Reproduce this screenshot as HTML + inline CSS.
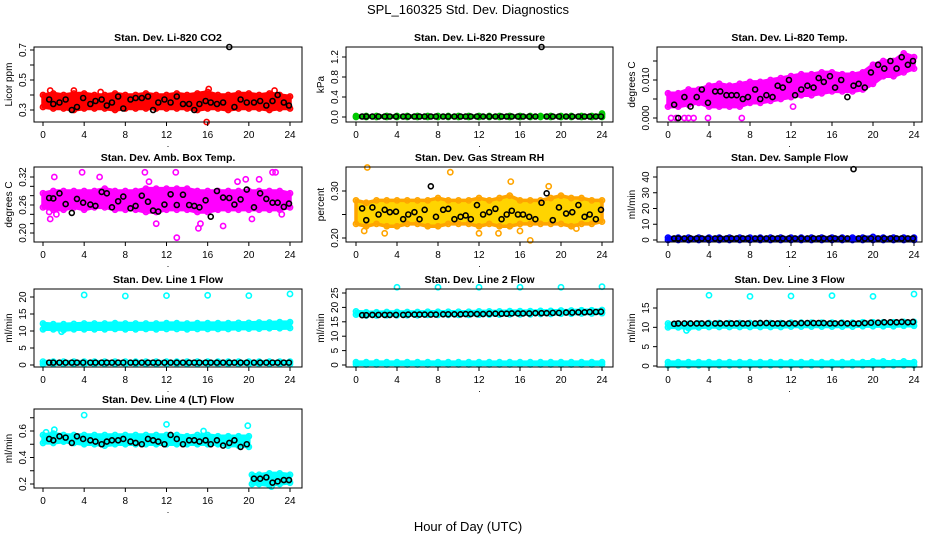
<!DOCTYPE html>
<html><head><meta charset="utf-8"><style>
body{margin:0;background:#fff;}
svg{display:block;font-family:"Liberation Sans",Arial,sans-serif;}
</style></head><body>
<svg id="c" width="936" height="540" viewBox="0 0 936 540">
<text x="468" y="14" text-anchor="middle" font-size="13">SPL_160325  Std. Dev. Diagnostics</text>
<text x="468" y="531" text-anchor="middle" font-size="13">Hour of Day (UTC)</text>
</svg>
<script>
// ---- data ----
const HOURS=[0,1,2,3,4,5,6,7,8,9,10,11,12,13,14,15,16,17,18,19,20,21,22,23,24];
const HOURS4=[0,1,2,3,4,5,6,7,8,9,10,11,12,13,14,15,16,17,18,19,20,20.3,21,22,23,24];
const BLACK_X=[0.6,1,1.6,2.2,2.8,3.3,3.9,4.6,5.1,5.7,6.2,6.7,7.3,7.8,8.5,9,9.6,10.2,10.7,11.2,11.8,12.4,13,13.6,14.2,14.7,15.2,15.8,16.3,16.9,17.5,18.1,18.6,19.2,19.8,20.5,21.1,21.7,22.3,22.8,23.4,23.9];
const X_TICKS=[0,4,8,12,16,20,24];

const co2Lo=[0.32,0.31,0.31,0.30,0.31,0.31,0.31,0.30,0.31,0.31,0.31,0.31,0.31,0.31,0.31,0.30,0.31,0.31,0.30,0.31,0.31,0.31,0.30,0.31,0.31];
const co2Hi=[0.40,0.41,0.40,0.41,0.41,0.40,0.40,0.41,0.40,0.40,0.41,0.40,0.40,0.41,0.40,0.41,0.42,0.40,0.40,0.41,0.41,0.40,0.41,0.40,0.39];
const co2OutX=[0.7,3,5.6,15.9,16.1,22.5];
const co2OutY=[0.43,0.43,0.42,0.22,0.44,0.43];
const co2Black=[0.37,0.34,0.35,0.37,0.30,0.32,0.38,0.34,0.36,0.37,0.33,0.35,0.39,0.31,0.37,0.38,0.38,0.39,0.30,0.35,0.37,0.35,0.39,0.34,0.34,0.30,0.34,0.36,0.35,0.34,0.35,0.72,0.32,0.37,0.35,0.35,0.36,0.33,0.36,0.40,0.35,0.33];

const presLo=[0,0,0,0,0,0,0,0,0,0,0,0,0,0,0,0,0,0,0,0,0,0,0,0,0];
const presHi=[0.02,0.02,0.02,0.02,0.02,0.02,0.02,0.02,0.02,0.02,0.02,0.02,0.02,0.02,0.02,0.02,0.02,0.02,0.02,0.02,0.02,0.02,0.02,0.02,0.04];
const presOutX=[24];
const presOutY=[0.07];
const presBlack=[0.01,0.01,0.01,0.01,0.01,0.01,0.01,0.01,0.01,0.01,0.01,0.01,0.01,0.01,0.01,0.01,0.01,0.01,0.01,0.01,0.01,0.01,0.01,0.01,0.01,0.01,0.01,0.01,0.01,0.01,0.01,1.4,0.01,0.01,0.01,0.01,0.01,0.01,0.01,0.01,0.01,0.01];

const tempLo=[0.003,0.003,0.0035,0.004,0.003,0.003,0.003,0.003,0.004,0.004,0.0045,0.005,0.0055,0.006,0.006,0.0065,0.007,0.007,0.007,0.0075,0.009,0.011,0.011,0.012,0.013];
const tempHi=[0.0065,0.0065,0.0075,0.0075,0.0085,0.009,0.0085,0.009,0.0095,0.0095,0.010,0.0105,0.011,0.0115,0.0115,0.012,0.012,0.0115,0.0115,0.012,0.014,0.015,0.015,0.017,0.016];
const tempOutX=[0.3,0.8,1.6,2,2.5,3.9,7.2,12.2];
const tempOutY=[0,0,0,0,0,0,0,0.003];
const tempBlack=[0.0035,0.000,0.0055,0.003,0.0055,0.0075,0.004,0.007,0.007,0.006,0.006,0.006,0.005,0.0055,0.0075,0.005,0.006,0.0055,0.0085,0.008,0.010,0.006,0.0075,0.0085,0.008,0.0105,0.0095,0.011,0.008,0.010,0.0055,0.0085,0.009,0.008,0.012,0.014,0.013,0.015,0.013,0.016,0.014,0.015];

const ambLo=[0.255,0.25,0.25,0.255,0.25,0.255,0.255,0.25,0.25,0.25,0.245,0.245,0.25,0.25,0.25,0.245,0.245,0.25,0.25,0.25,0.25,0.25,0.25,0.25,0.255];
const ambHi=[0.285,0.29,0.29,0.29,0.29,0.29,0.295,0.29,0.29,0.29,0.295,0.295,0.295,0.295,0.295,0.29,0.29,0.29,0.29,0.29,0.29,0.29,0.29,0.29,0.285];
const ambOutX=[0.6,0.7,1.1,1.3,3.8,5.5,9.9,10.3,11,12.9,13,15.1,15.3,17.5,18.9,19.7,20.3,21,22.3,22.6,23.2];
const ambOutY=[0.245,0.23,0.32,0.24,0.33,0.32,0.33,0.31,0.22,0.33,0.19,0.21,0.22,0.215,0.31,0.315,0.23,0.315,0.33,0.33,0.24];
const ambBlack=[0.275,0.274,0.285,0.262,0.243,0.273,0.265,0.261,0.258,0.288,0.285,0.255,0.268,0.278,0.253,0.258,0.28,0.267,0.248,0.246,0.261,0.283,0.26,0.282,0.26,0.258,0.255,0.27,0.235,0.29,0.276,0.275,0.261,0.272,0.293,0.255,0.285,0.273,0.265,0.265,0.256,0.263];

const rhLo=[0.23,0.225,0.23,0.225,0.225,0.23,0.23,0.225,0.225,0.23,0.23,0.23,0.225,0.23,0.225,0.225,0.23,0.23,0.23,0.23,0.23,0.225,0.23,0.23,0.235];
const rhHi=[0.28,0.275,0.28,0.28,0.28,0.28,0.28,0.28,0.285,0.28,0.28,0.28,0.285,0.28,0.285,0.29,0.28,0.28,0.28,0.285,0.29,0.285,0.285,0.28,0.28];
const rhOutX=[0.8,1.1,2.8,9.2,12,13.9,15.1,16,17,18.8,21.5];
const rhOutY=[0.215,0.35,0.21,0.34,0.21,0.21,0.32,0.215,0.195,0.31,0.22];
const rhBlack=[0.263,0.238,0.265,0.25,0.26,0.255,0.256,0.24,0.25,0.255,0.240,0.26,0.31,0.245,0.26,0.262,0.24,0.245,0.248,0.24,0.27,0.25,0.255,0.262,0.24,0.25,0.258,0.25,0.25,0.245,0.24,0.275,0.295,0.238,0.265,0.252,0.255,0.27,0.245,0.25,0.24,0.26];

const sfLo=[0,0,0,0,0,0,0,0,0,0,0,0,0,0,0,0,0,0,0,0,0,0,0,0,0];
const sfHi=[1.5,1.5,1.5,1.5,1.5,1.5,1.5,1.5,1.5,1.5,1.5,1.5,1.5,1.5,1.5,1.5,1.5,1.5,1.5,1.5,2,1.5,1.5,1.5,1.5];
const sfOutX=[];
const sfOutY=[];
const sfBlack=[1,1,1,1,1,1,1,1,1,1,1,1,1,1,1,1,1,1,1,1,1,1,1,1,1,1,1,1,1,1,1,45,1,1,1,1,1,1,1,1,1,1];

const l1Lo=[10.5,10.5,10.3,10.5,10.5,10.5,10.5,10.6,10.5,10.5,10.6,10.5,10.6,10.6,10.5,10.6,10.6,10.6,10.6,10.7,10.7,10.7,10.8,10.8,10.9];
const l1Hi=[12.2,12.0,12.0,12.1,12.2,12.2,12.2,12.3,12.2,12.2,12.2,12.2,12.3,12.3,12.2,12.3,12.3,12.3,12.3,12.4,12.4,12.5,12.5,12.6,12.6];
const l1BaseLo=[0.3,0.3,0.3,0.3,0.3,0.3,0.3,0.3,0.3,0.3,0.3,0.3,0.3,0.3,0.3,0.3,0.3,0.3,0.3,0.3,0.3,0.3,0.3,0.3,0.3];
const l1BaseHi=[1.0,1.0,1.0,1.0,1.0,1.0,1.0,1.0,1.0,1.0,1.0,1.0,1.0,1.0,1.0,1.0,1.0,1.0,1.0,1.0,1.0,1.0,1.0,1.0,1.0];
const l1OutX=[4,8,12,16,20,24,1.8];
const l1OutY=[20.6,20.3,20.4,20.5,20.4,20.9,9.8];
const l1Black=[0.7,0.7,0.7,0.7,0.7,0.7,0.7,0.7,0.7,0.7,0.7,0.7,0.7,0.7,0.7,0.7,0.7,0.7,0.7,0.7,0.7,0.7,0.7,0.7,0.7,0.7,0.7,0.7,0.7,0.7,0.7,0.7,0.7,0.7,0.7,0.7,0.7,0.7,0.7,0.7,0.7,0.7];

const l2Lo=[17.5,17.2,17.2,17.3,17.3,17.3,17.3,17.4,17.4,17.4,17.4,17.4,17.5,17.5,17.5,17.6,17.6,17.6,17.7,17.7,17.8,17.8,17.9,17.9,18.0];
const l2Hi=[18.6,18.3,18.3,18.4,18.4,18.4,18.4,18.5,18.5,18.5,18.5,18.5,18.6,18.6,18.6,18.7,18.7,18.7,18.8,18.8,18.9,18.9,19.0,19.0,19.1];
const l2BaseLo=[0.2,0.2,0.2,0.2,0.2,0.2,0.2,0.2,0.2,0.2,0.2,0.2,0.2,0.2,0.2,0.2,0.2,0.2,0.2,0.2,0.2,0.2,0.2,0.2,0.2];
const l2BaseHi=[1.0,1.0,1.0,1.0,1.0,1.0,1.0,1.0,1.0,1.0,1.0,1.0,1.0,1.0,1.0,1.0,1.0,1.0,1.0,1.0,1.0,1.0,1.0,1.0,1.0];
const l2OutX=[4,8,12,16,20,24];
const l2OutY=[27,27,27,27,27,27.2];
const l2Black=[17.3,17.3,17.4,17.4,17.4,17.4,17.4,17.4,17.5,17.5,17.5,17.5,17.5,17.5,17.6,17.6,17.6,17.6,17.7,17.7,17.7,17.7,17.8,17.8,17.8,17.8,17.9,17.9,17.9,17.9,18.0,18.0,18.0,18.1,18.1,18.2,18.2,18.3,18.3,18.4,18.4,18.5];

const l3Lo=[10.0,10.0,9.8,10.0,10.1,10.1,10.1,10.1,10.1,10.1,10.1,10.1,10.2,10.2,10.2,10.2,10.2,10.2,10.2,10.3,10.3,10.3,10.3,10.4,10.4];
const l3Hi=[11.0,11.0,10.9,11.0,11.1,11.1,11.1,11.1,11.1,11.1,11.1,11.1,11.2,11.2,11.2,11.2,11.2,11.2,11.2,11.3,11.3,11.3,11.3,11.4,11.4];
const l3BaseLo=[0.2,0.2,0.2,0.2,0.2,0.2,0.2,0.2,0.2,0.2,0.2,0.2,0.2,0.2,0.2,0.2,0.2,0.2,0.2,0.2,0.2,0.2,0.2,0.2,0.2];
const l3BaseHi=[1.0,1.0,1.0,1.0,1.0,1.0,1.0,1.0,1.0,1.0,1.0,1.0,1.0,1.0,1.0,1.0,1.0,1.0,1.0,1.0,1.2,1.2,1.0,1.2,1.0];
const l3OutX=[4,8,12,16,20,24,1.8];
const l3OutY=[18.3,18.0,18.1,18.2,18.0,18.6,9.2];
const l3Black=[10.9,11.0,11.0,11.0,11.0,11.0,11.0,11.0,11.0,11.0,11.0,11.0,11.0,11.0,11.0,11.1,11.1,11.0,11.0,11.0,11.0,11.0,11.1,11.1,11.1,11.1,11.1,11.0,11.0,11.1,11.0,11.0,11.0,11.1,11.2,11.2,11.3,11.3,11.3,11.4,11.3,11.4];

const l4Lo=[0.51,0.51,0.52,0.51,0.50,0.50,0.49,0.50,0.50,0.50,0.50,0.50,0.50,0.50,0.50,0.50,0.50,0.50,0.49,0.49,0.48,0.20,0.20,0.19,0.20,0.21];
const l4Hi=[0.57,0.58,0.57,0.57,0.57,0.57,0.57,0.57,0.57,0.57,0.57,0.57,0.57,0.57,0.56,0.57,0.57,0.56,0.56,0.56,0.56,0.27,0.27,0.28,0.28,0.27];
const l4OutX=[0.3,1.1,4,12,15.6,19.9,22.2];
const l4OutY=[0.59,0.61,0.72,0.65,0.60,0.64,0.18];
const l4Black=[0.54,0.53,0.56,0.55,0.51,0.56,0.54,0.53,0.52,0.50,0.52,0.53,0.53,0.54,0.52,0.51,0.50,0.54,0.53,0.52,0.50,0.57,0.54,0.50,0.53,0.53,0.52,0.53,0.50,0.53,0.49,0.51,0.53,0.48,0.50,0.24,0.24,0.25,0.21,0.22,0.23,0.23];

// ---- layout ----
const COLS=[{l:34,r:302,x0:43,x1:290},{l:346,r:613,x0:356,x1:602},{l:657,r:922,x0:668,x1:914}];
const ROWS=[{t:47,b:122},{t:167,b:242},{t:289,b:367},{t:409,b:488}];
const panels=[
 {name:'co2',title:'Stan. Dev. Li-820 CO2',yl:'Licor ppm',c:0,r:0,m:[0.3,110,0.7,50],ticks:[0.3,0.4,0.5,0.6,0.7],labs:['0.3','','0.5','','0.7'],col:'#ff0000',hr:HOURS,bands:[[co2Lo,co2Hi]],ox:co2OutX,oy:co2OutY,blk:co2Black},
 {name:'pressure',title:'Stan. Dev. Li-820 Pressure',yl:'kPa',c:1,r:0,m:[0,117,1.2,57],ticks:[0,0.4,0.8,1.2],labs:['0.0','0.4','0.8','1.2'],col:'#00c800',hr:HOURS,bands:[[presLo,presHi]],ox:presOutX,oy:presOutY,blk:presBlack},
 {name:'li820-temp',title:'Stan. Dev. Li-820 Temp.',yl:'degrees C',c:2,r:0,m:[0,118,0.010,80],ticks:[0,0.005,0.010,0.015],labs:['0.000','','0.010',''],col:'#ff00ff',hr:HOURS,bands:[[tempLo,tempHi]],ox:tempOutX,oy:tempOutY,blk:tempBlack},
 {name:'amb-box-temp',title:'Stan. Dev. Amb. Box Temp.',yl:'degrees C',c:0,r:1,m:[0.20,233,0.32,177],ticks:[0.20,0.22,0.24,0.26,0.28,0.30,0.32],labs:['0.20','','','0.26','','','0.32'],col:'#ff00ff',hr:HOURS,bands:[[ambLo,ambHi]],ox:ambOutX,oy:ambOutY,blk:ambBlack},
 {name:'gas-stream-rh',title:'Stan. Dev. Gas Stream RH',yl:'percent',c:1,r:1,m:[0.20,238,0.30,191],ticks:[0.20,0.25,0.30],labs:['0.20','','0.30'],col:'#ffa500',fill:'#ffd400',hr:HOURS,bands:[[rhLo,rhHi]],ox:rhOutX,oy:rhOutY,blk:rhBlack},
 {name:'sample-flow',title:'Stan. Dev. Sample Flow',yl:'ml/min',c:2,r:1,m:[0,240,40,177],ticks:[0,10,20,30,40],labs:['0','10','20','30','40'],col:'#0000ff',hr:HOURS,bands:[[sfLo,sfHi]],ox:sfOutX,oy:sfOutY,blk:sfBlack},
 {name:'line1-flow',title:'Stan. Dev. Line 1 Flow',yl:'ml/min',c:0,r:2,m:[0,365,20,297],ticks:[0,5,10,15,20],labs:['0','5','10','15','20'],col:'#00ffff',hr:HOURS,bands:[[l1Lo,l1Hi],[l1BaseLo,l1BaseHi]],ox:l1OutX,oy:l1OutY,blk:l1Black},
 {name:'line2-flow',title:'Stan. Dev. Line 2 Flow',yl:'ml/min',c:1,r:2,m:[0,365,25,293],ticks:[0,5,10,15,20,25],labs:['0','5','10','15','20','25'],col:'#00ffff',hr:HOURS,bands:[[l2Lo,l2Hi],[l2BaseLo,l2BaseHi]],ox:l2OutX,oy:l2OutY,blk:l2Black},
 {name:'line3-flow',title:'Stan. Dev. Line 3 Flow',yl:'ml/min',c:2,r:2,m:[0,366,15,308],ticks:[0,5,10,15],labs:['0','5','10','15'],col:'#00ffff',hr:HOURS,bands:[[l3Lo,l3Hi],[l3BaseLo,l3BaseHi]],ox:l3OutX,oy:l3OutY,blk:l3Black},
 {name:'line4-flow',title:'Stan. Dev. Line 4 (LT) Flow',yl:'ml/min',c:0,r:3,m:[0.2,484,0.6,431],ticks:[0.2,0.3,0.4,0.5,0.6,0.7],labs:['0.2','','0.4','','0.6',''],col:'#00ffff',hr:HOURS4,bands:[[l4Lo,l4Hi]],ox:l4OutX,oy:l4OutY,blk:l4Black,split:20.1}
];
const svg=document.getElementById('c');
const NS='http://www.w3.org/2000/svg';
function mk(tag,at,parent){const e=document.createElementNS(NS,tag);for(const k in at)e.setAttribute(k,at[k]);(parent||svg).appendChild(e);return e;}
panels.forEach(p=>{
 const C=COLS[p.c],R=ROWS[p.r];
 const g=mk('g',{});
 
 
 const xs=v=>C.x0+(C.x1-C.x0)*v/24;
 const ys=v=>p.m[1]+(p.m[3]-p.m[1])*(v-p.m[0])/(p.m[2]-p.m[0]);
 const t=mk('text',{x:(C.l+C.r)/2,y:R.t-6,'text-anchor':'middle','font-size':'10.5','font-weight':'bold'},g);t.textContent=p.title;
 
 
 p.bands.forEach(([lo,hi])=>{
  const segs=p.split!=null?[p.hr.map((h,i)=>i).filter(i=>p.hr[i]<p.split),p.hr.map((h,i)=>i).filter(i=>p.hr[i]>=p.split)]:[p.hr.map((h,i)=>i)];
  segs.forEach(idx=>{
   const pts=idx.map(i=>xs(p.hr[i])+','+ys(hi[i])).concat(idx.slice().reverse().map(i=>xs(p.hr[i])+','+ys(lo[i])));
   const pg=mk('polygon',{points:pts.join(' '),fill:p.fill||p.col,stroke:p.col,'stroke-width':3.5,'stroke-linejoin':'round'},g);
   
   
   idx.forEach(i=>{[lo[i],hi[i]].forEach(v=>{
    const ci=mk('circle',{cx:xs(p.hr[i]),cy:ys(v),r:2.6,fill:'none',stroke:p.col,'stroke-width':1.6},g);
    
    
   });});
  });
 });
 p.ox.forEach((x,i)=>{
  const ci=mk('circle',{cx:xs(x),cy:ys(p.oy[i]),r:2.6,fill:'none',stroke:p.col,'stroke-width':1.6},g);
  
  
 });
 p.blk.forEach((v,i)=>{
  const ci=mk('circle',{cx:xs(BLACK_X[i]),cy:ys(v),r:2.5,fill:'none',stroke:'#000','stroke-width':1.6},g);
  
  
 });
 const bx=mk('rect',{x:C.l,y:R.t,width:C.r-C.l,height:R.b-R.t,fill:'none',stroke:'#000','stroke-width':1},g);
 
 
 mk('line',{x1:xs(0),x2:xs(24),y1:R.b,y2:R.b,stroke:'#000'},g);
 X_TICKS.forEach(v=>{
  mk('line',{x1:xs(v),x2:xs(v),y1:R.b,y2:R.b+4,stroke:'#000'},g);
  const tl=mk('text',{x:xs(v),y:R.b+16,'text-anchor':'middle','font-size':'10'},g);tl.textContent=v;
  
  
 });
 mk('text',{x:(C.l+C.r)/2,y:R.b+25,'text-anchor':'middle','font-size':'9'},g).textContent='.';
 mk('line',{x1:C.l,x2:C.l,y1:ys(p.ticks[0]),y2:ys(p.ticks[p.ticks.length-1]),stroke:'#000'},g);
 p.ticks.forEach((v,i)=>{
  const y=ys(v);
  mk('line',{x1:C.l-4,x2:C.l,y1:y,y2:y,stroke:'#000'},g);
  if(p.labs[i]){
   const tl=mk('text',{x:C.l-8,y:y,'text-anchor':'middle','font-size':'10',transform:`rotate(-90 ${C.l-8} ${y})`},g);tl.textContent=p.labs[i];
   
   
  }
 });
 const yc=(R.t+R.b)/2;
 const yl=mk('text',{x:C.l-22,y:yc,'text-anchor':'middle','font-size':'10',transform:`rotate(-90 ${C.l-22} ${yc})`},g);yl.textContent=p.yl;
 
 
});
</script>
</body></html>
